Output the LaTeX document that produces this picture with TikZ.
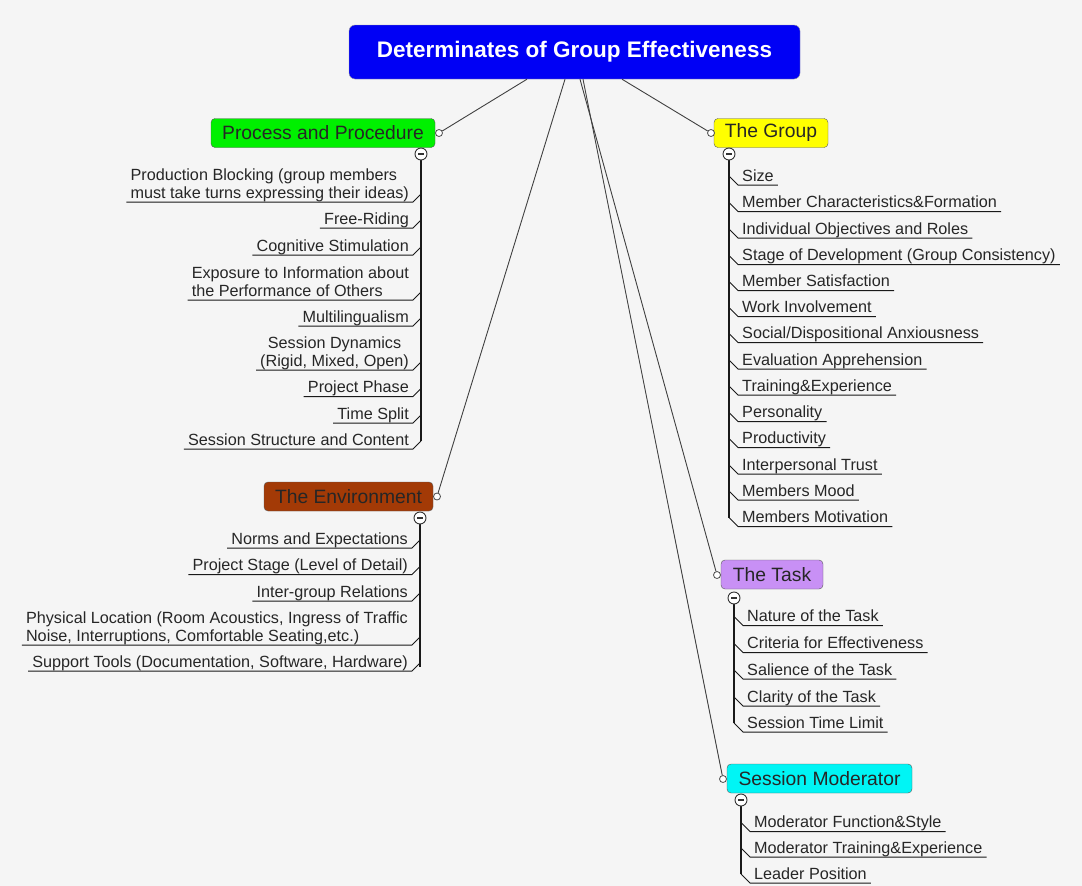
\documentclass[tikz,border=0pt]{standalone}
\usepackage{fontspec}
\setmainfont{Liberation Sans}
\usepackage{tikz}
\definecolor{bgcol}{HTML}{F5F5F5}
\definecolor{rootblue}{HTML}{0000F5}
\definecolor{procgreen}{HTML}{00F000}
\definecolor{groupyellow}{HTML}{FFFF00}
\definecolor{envbrown}{HTML}{A33A06}
\definecolor{tasklilac}{HTML}{C890F5}
\definecolor{modcyan}{HTML}{00F5F5}
\tikzset{
  rootbox/.style={draw=black!40, fill=rootblue, rounded corners=6pt, minimum width=451pt, minimum height=54pt, text=white, font=\fontsize{22.5}{26}\selectfont\bfseries},
  topicbox/.style={draw=black!65, rounded corners=4pt, minimum height=29pt, inner xsep=0pt, text=black!85, font=\fontsize{19.3}{22}\selectfont},
  knob/.style={circle, draw=black!70, fill=white, inner sep=0pt, minimum size=7pt, line width=0.8pt},
  minus/.style={circle, draw=black!80, fill=white, inner sep=0pt, minimum size=12pt, line width=0.9pt, path picture={\draw[line width=1.2pt] ([xshift=-3pt]path picture bounding box.center) -- ([xshift=3pt]path picture bounding box.center);}},
  leaf/.style={inner xsep=4pt, inner ysep=1.2pt, text depth=2.6pt, text=black!85, font=\fontsize{16.2}{17.5}\selectfont},
  link/.style={draw=black!75, line width=0.9pt},
  spine/.style={draw=black!90, line width=1.5pt},
  twig/.style={draw=black!90, line width=1pt},
}

\begin{document}
\begin{tikzpicture}[x=1pt, y=-1pt]%
\useasboundingbox (0,0) rectangle (1082,886);%
\fill[bgcol] (0,0) rectangle (1082,886);%
% central topic
\node[rootbox] (root) at (574.5,52) {Determinates of Group Effectiveness};%
% main topics
\node[topicbox, fill=procgreen, minimum width=224pt] (pp) at (323,133) {Process and Procedure};%
\node[topicbox, fill=groupyellow, minimum width=114pt] (gr) at (771,133) {The Group};%
\node[topicbox, fill=envbrown, minimum width=169pt] (en) at (348.5,496.5) {The Environment};%
\node[topicbox, fill=tasklilac, minimum width=102pt] (ta) at (772,574.5) {The Task};%
\node[topicbox, fill=modcyan, minimum width=185pt] (mo) at (819.5,778.5) {Session Moderator};%
\node[knob] (pp-k) at (439,133) {};%
\node[knob] (gr-k) at (711,133) {};%
\node[knob] (en-k) at (437,496.5) {};%
\node[knob] (ta-k) at (717,575) {};%
\node[knob] (mo-k) at (723,779) {};%
\draw[link] ([xshift=-47.5pt]root.south) -- (pp-k);%
\draw[link] ([xshift=-9.5pt]root.south) -- (en-k);%
\draw[link] ([xshift=5.5pt]root.south) -- (ta-k);%
\draw[link] ([xshift=8.5pt]root.south) -- (mo-k);%
\draw[link] ([xshift=47.5pt]root.south) -- (gr-k);%
% Process and Procedure
\coordinate (pp-end) at (421,441);%
\draw[spine] (421,154) -- (pp-end);%
\node[minus] (pp-m) at (421,154) {};%
\node[leaf, anchor=south east, align=left] (pp1) at (413,202) {Production Blocking (group members\\must take turns expressing their ideas)};%
\node[leaf, anchor=south east] (pp2) at (413,228) {Free-Riding};%
\node[leaf, anchor=south east] (pp3) at (413,255) {Cognitive Stimulation};%
\node[leaf, anchor=south east, align=left] (pp4) at (413,300) {Exposure to Information about\\the Performance of Others};%
\node[leaf, anchor=south east] (pp5) at (413,326) {Multilingualism};%
\node[leaf, anchor=south east, align=center] (pp6) at (413,370) {Session Dynamics\\(Rigid, Mixed, Open)};%
\node[leaf, anchor=south east] (pp7) at (413,396.5) {Project Phase};%
\node[leaf, anchor=south east] (pp8) at (413,423) {Time Split};%
\node[leaf, anchor=south east] (pp9) at (413,449) {Session Structure and Content};%
\draw[twig] (pp1.south west) -- (pp1.south east) -- ++(8,-8);%
\draw[twig] (pp2.south west) -- (pp2.south east) -- ++(8,-8);%
\draw[twig] (pp3.south west) -- (pp3.south east) -- ++(8,-8);%
\draw[twig] (pp4.south west) -- (pp4.south east) -- ++(8,-8);%
\draw[twig] (pp5.south west) -- (pp5.south east) -- ++(8,-8);%
\draw[twig] (pp6.south west) -- (pp6.south east) -- ++(8,-8);%
\draw[twig] (pp7.south west) -- (pp7.south east) -- ++(8,-8);%
\draw[twig] (pp8.south west) -- (pp8.south east) -- ++(8,-8);%
\draw[twig] (pp9.south west) -- (pp9.south east) -- ++(8,-8);%
% The Environment
\coordinate (en-end) at (420,667);%
\draw[spine] (420,518) -- (en-end);%
\node[minus] (en-m) at (420,518) {};%
\node[leaf, anchor=south east] (en1) at (412,548) {Norms and Expectations};%
\node[leaf, anchor=south east] (en2) at (412,574.5) {Project Stage (Level of Detail)};%
\node[leaf, anchor=south east] (en3) at (412,601) {Inter-group Relations};%
\node[leaf, anchor=south east, align=left] (en4) at (412,645) {Physical Location (Room Acoustics, Ingress of Traffic\\Noise, Interruptions, Comfortable Seating,etc.)};%
\node[leaf, anchor=south east] (en5) at (412,671) {Support Tools (Documentation, Software, Hardware)};%
\draw[twig] (en1.south west) -- (en1.south east) -- ++(8,-8);%
\draw[twig] (en2.south west) -- (en2.south east) -- ++(8,-8);%
\draw[twig] (en3.south west) -- (en3.south east) -- ++(8,-8);%
\draw[twig] (en4.south west) -- (en4.south east) -- ++(8,-8);%
\draw[twig] (en5.south west) -- (en5.south east) -- ++(8,-8);%
% The Group
\coordinate (gr-end) at (729,518);%
\draw[spine] (729,154) -- (gr-end);%
\node[minus] (gr-m) at (729,154) {};%
\node[leaf, anchor=south west] (gr1) at (738,185) {Size};%
\node[leaf, anchor=south west] (gr2) at (738,211.5) {Member Characteristics\&Formation};%
\node[leaf, anchor=south west] (gr3) at (738,238) {Individual Objectives and Roles};%
\node[leaf, anchor=south west] (gr4) at (738,264.5) {Stage of Development (Group Consistency)};%
\node[leaf, anchor=south west] (gr5) at (738,290.5) {Member Satisfaction};%
\node[leaf, anchor=south west] (gr6) at (738,316.5) {Work Involvement};%
\node[leaf, anchor=south west] (gr7) at (738,342.5) {Social/Dispositional Anxiousness};%
\node[leaf, anchor=south west] (gr8) at (738,369) {Evaluation Apprehension};%
\node[leaf, anchor=south west] (gr9) at (738,395) {Training\&Experience};%
\node[leaf, anchor=south west] (gr10) at (738,421.5) {Personality};%
\node[leaf, anchor=south west] (gr11) at (738,447.5) {Productivity};%
\node[leaf, anchor=south west] (gr12) at (738,474) {Interpersonal Trust};%
\node[leaf, anchor=south west] (gr13) at (738,500) {Members Mood};%
\node[leaf, anchor=south west] (gr14) at (738,526.5) {Members Motivation};%
\draw[twig] (gr1.south east) -- (gr1.south west) -- ++(-9,-9);%
\draw[twig] (gr2.south east) -- (gr2.south west) -- ++(-9,-9);%
\draw[twig] (gr3.south east) -- (gr3.south west) -- ++(-9,-9);%
\draw[twig] (gr4.south east) -- (gr4.south west) -- ++(-9,-9);%
\draw[twig] (gr5.south east) -- (gr5.south west) -- ++(-9,-9);%
\draw[twig] (gr6.south east) -- (gr6.south west) -- ++(-9,-9);%
\draw[twig] (gr7.south east) -- (gr7.south west) -- ++(-9,-9);%
\draw[twig] (gr8.south east) -- (gr8.south west) -- ++(-9,-9);%
\draw[twig] (gr9.south east) -- (gr9.south west) -- ++(-9,-9);%
\draw[twig] (gr10.south east) -- (gr10.south west) -- ++(-9,-9);%
\draw[twig] (gr11.south east) -- (gr11.south west) -- ++(-9,-9);%
\draw[twig] (gr12.south east) -- (gr12.south west) -- ++(-9,-9);%
\draw[twig] (gr13.south east) -- (gr13.south west) -- ++(-9,-9);%
\draw[twig] (gr14.south east) -- (gr14.south west) -- ++(-9,-9);%
% The Task
\coordinate (ta-end) at (734,723);%
\draw[spine] (734,598) -- (ta-end);%
\node[minus] (ta-m) at (734,598) {};%
\node[leaf, anchor=south west] (ta1) at (743,625.5) {Nature of the Task};%
\node[leaf, anchor=south west] (ta2) at (743,652.5) {Criteria for Effectiveness};%
\node[leaf, anchor=south west] (ta3) at (743,679) {Salience of the Task};%
\node[leaf, anchor=south west] (ta4) at (743,706) {Clarity of the Task};%
\node[leaf, anchor=south west] (ta5) at (743,732) {Session Time Limit};%
\draw[twig] (ta1.south east) -- (ta1.south west) -- ++(-9,-9);%
\draw[twig] (ta2.south east) -- (ta2.south west) -- ++(-9,-9);%
\draw[twig] (ta3.south east) -- (ta3.south west) -- ++(-9,-9);%
\draw[twig] (ta4.south east) -- (ta4.south west) -- ++(-9,-9);%
\draw[twig] (ta5.south east) -- (ta5.south west) -- ++(-9,-9);%
% Session Moderator
\coordinate (mo-end) at (741,874);%
\draw[spine] (741,800) -- (mo-end);%
\node[minus] (mo-m) at (741,800) {};%
\node[leaf, anchor=south west] (mo1) at (750,831.5) {Moderator Function\&Style};%
\node[leaf, anchor=south west] (mo2) at (750,857) {Moderator Training\&Experience};%
\node[leaf, anchor=south west] (mo3) at (750,883) {Leader Position};%
\draw[twig] (mo1.south east) -- (mo1.south west) -- ++(-9,-9);%
\draw[twig] (mo2.south east) -- (mo2.south west) -- ++(-9,-9);%
\draw[twig] (mo3.south east) -- (mo3.south west) -- ++(-9,-9);%
\end{tikzpicture}
\end{document}
